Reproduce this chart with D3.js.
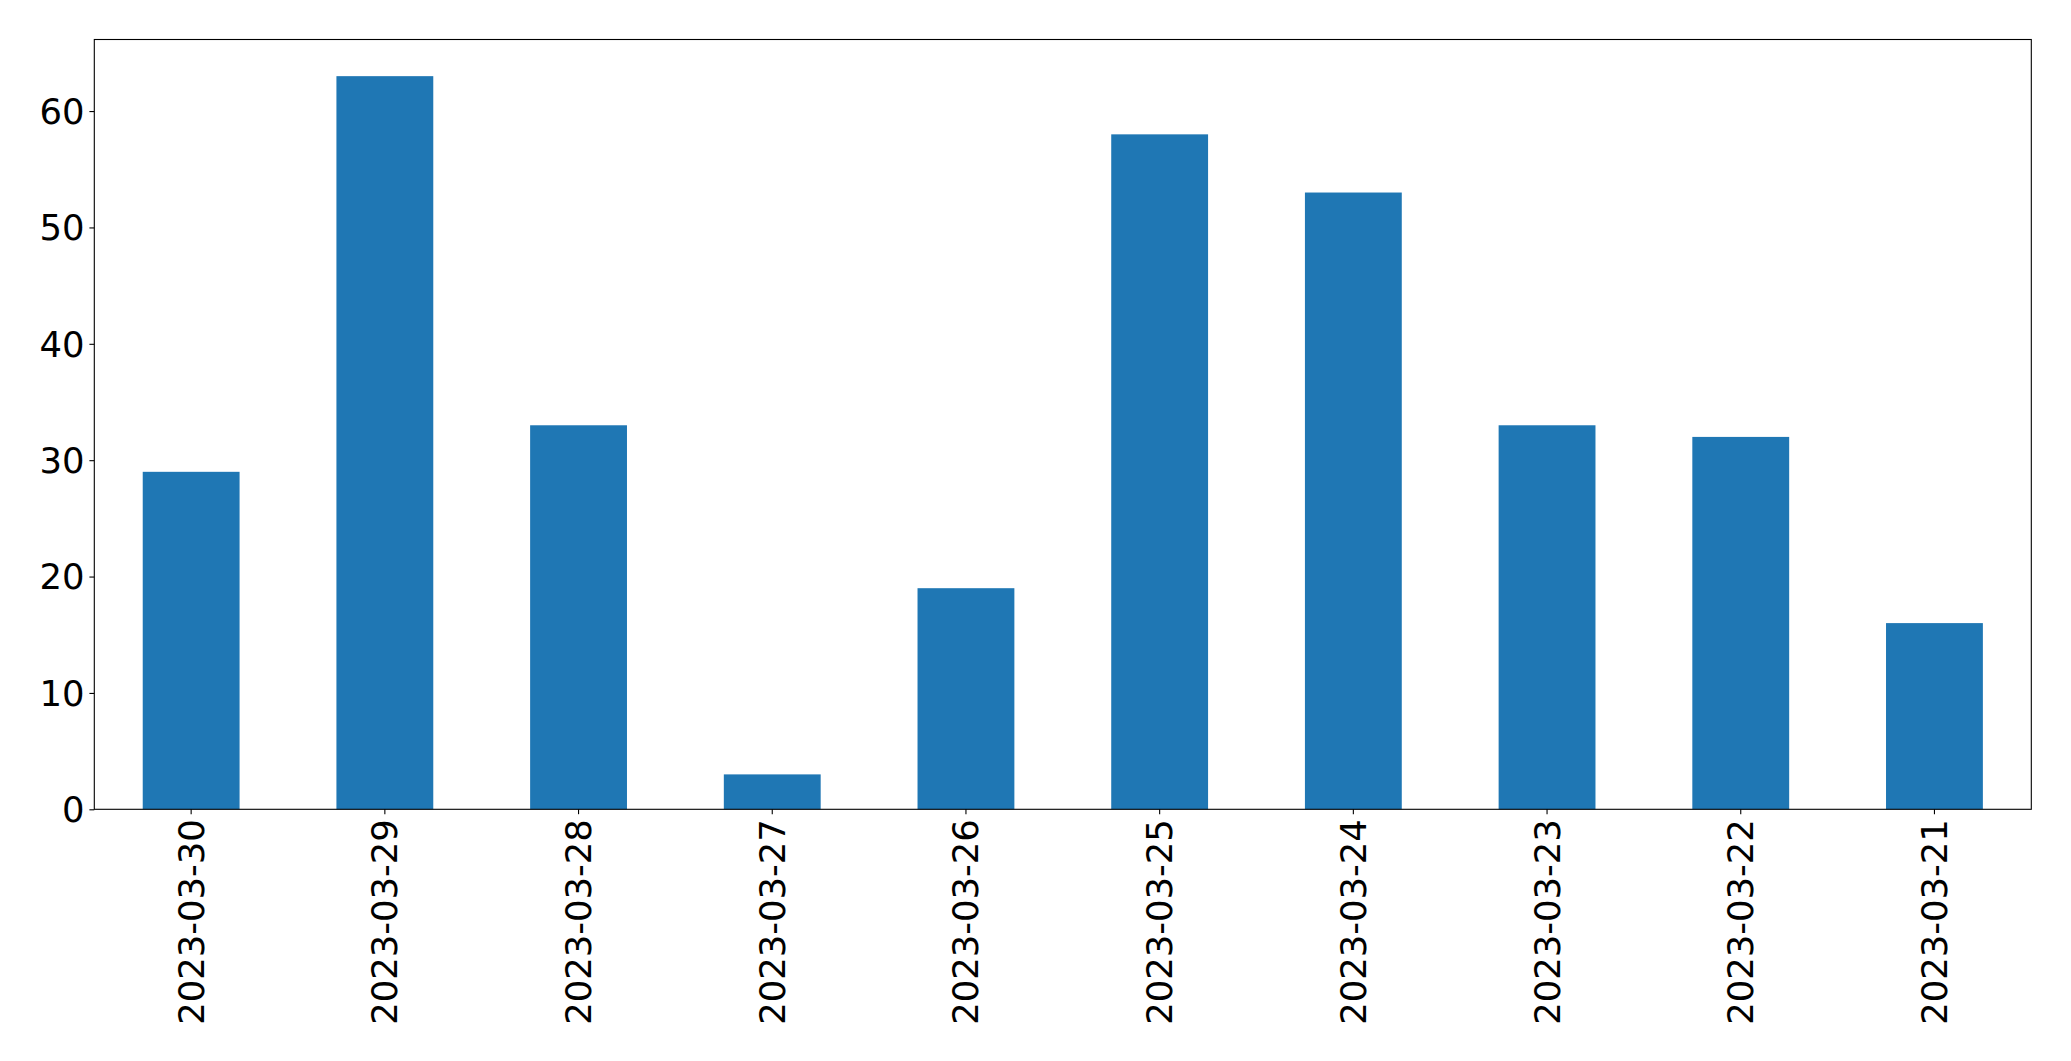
<!DOCTYPE html>
<html><head><meta charset="utf-8">
<script src="https://cdn.jsdelivr.net/npm/d3@7/dist/d3.min.js"></script>
<style>body{margin:0;background:#fff}svg{display:block}text{font-family:"DejaVu Sans",sans-serif}</style>
</head><body><svg id="c" width="2071" height="1061"></svg>
<script>
const categories = ["2023-03-30","2023-03-29","2023-03-28","2023-03-27","2023-03-26","2023-03-25","2023-03-24","2023-03-23","2023-03-22","2023-03-21"];
const values = [29, 63, 33, 3, 19, 58, 53, 33, 32, 16];
const yTicks = [0, 10, 20, 30, 40, 50, 60];

const W = 2071, H = 1061;
const m = {left: 94.3, right: 2031.3, top: 39.5, bottom: 809.3};
const svg = d3.select("#c");
const x = d3.scaleBand().domain(categories).range([m.left, m.right]).paddingInner(0.5).paddingOuter(0.25);
const y = d3.scaleLinear().domain([0, d3.max(values) * 1.05]).range([m.bottom, m.top]);

svg.append("g").selectAll("rect").data(values).join("rect")
  .attr("x", (d, i) => x(categories[i]))
  .attr("width", x.bandwidth())
  .attr("y", d => y(d))
  .attr("height", d => y(0) - y(d))
  .attr("fill", "#1f77b4");

const fs = "35.4px";
const ya = svg.append("g").attr("transform", `translate(${m.left},0)`)
  .call(d3.axisLeft(y).tickValues(yTicks).tickSize(4.9).tickPadding(4.9).tickFormat(d3.format("d")));
ya.select(".domain").remove();
ya.selectAll("line").attr("stroke", "#000").attr("stroke-width", 1.1);
ya.selectAll("text").style("font-size", fs).attr("fill", "#000").attr("dy", "0.35em");

const xa = svg.append("g").attr("transform", `translate(0,${m.bottom})`)
  .call(d3.axisBottom(x).tickSize(4.9).tickPadding(4.9));
xa.select(".domain").remove();
xa.selectAll("line").attr("stroke", "#000").attr("stroke-width", 1.1);
xa.selectAll("text").style("font-size", fs).attr("fill", "#000")
  .attr("text-anchor", "end").attr("dy", null).attr("y", 0).attr("x", 0)
  .attr("transform", "translate(0,9.8) rotate(-90)")
  .attr("dominant-baseline", "central");

svg.append("rect").attr("x", m.left).attr("y", m.top)
  .attr("width", m.right - m.left).attr("height", m.bottom - m.top)
  .attr("fill", "none").attr("stroke", "#000").attr("stroke-width", 1.1);
</script></body></html>
